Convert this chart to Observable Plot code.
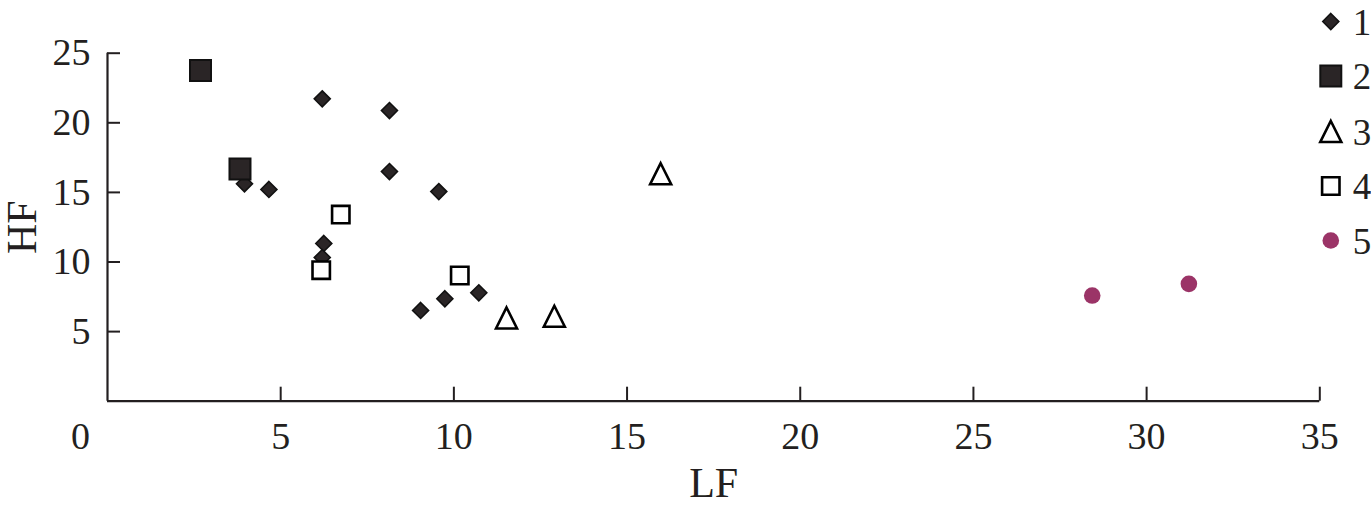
<!DOCTYPE html>
<html>
<head>
<meta charset="utf-8">
<script src="https://cdn.jsdelivr.net/npm/d3@7"></script>
<script src="https://cdn.jsdelivr.net/npm/@observablehq/plot@0.6"></script>
<style>
  html, body { margin: 0; padding: 0; background: #fff; }
  #chart svg { display: block; overflow: visible; }
  #chart svg text { font-family: "Liberation Serif", "Times New Roman", serif; }
</style>
</head>
<body>
<div id="chart"></div>
<script>
// ---- data ----
const seriesNames = ["1", "2", "3", "4", "5"];

const s1LF = [6.20, 8.14, 8.14, 9.565, 3.955, 4.66, 6.245, 6.20, 9.04, 9.74, 10.72];
const s1HF = [21.72, 20.88, 16.50, 15.06, 15.62, 15.21, 11.33, 10.32, 6.52, 7.36, 7.79];

const s2LF = [2.685, 3.825];
const s2HF = [23.76, 16.68];

const s3LF = [11.52, 12.90, 15.97];
const s3HF = [5.98, 6.10, 16.34];

const s4LF = [6.735, 6.17, 10.17];
const s4HF = [13.41, 9.41, 9.03];

const s5LF = [28.43, 31.22];
const s5HF = [7.59, 8.43];

const xTicks = [5, 10, 15, 20, 25, 30, 35];
const yTicks = [5, 10, 15, 20, 25];
const originLabel = [0];
const xTitle = ["LF"];
const yTitle = ["HF"];

// ---- layout ----
const W = 1371, H = 510;
const mL = 107, mR = 51.7, mT = 52.7, mB = 109.3;
const frameW = W - mL - mR, frameH = H - mT - mB;
const ink = "#231f20";
const font = '"Liberation Serif", "Times New Roman", serif';

// ---- custom symbols (size = r*r*PI) ----
const rad = (size) => Math.sqrt(size / Math.PI);
const diamond = {draw(c, s) { const r = rad(s); c.moveTo(0, -r); c.lineTo(r, 0); c.lineTo(0, r); c.lineTo(-r, 0); c.closePath(); }};
const square = {draw(c, s) { const r = rad(s); c.rect(-r, -r, 2 * r, 2 * r); }};
const triangle = {draw(c, s) { const r = rad(s); c.moveTo(0, -r); c.lineTo(r, r); c.lineTo(-r, r); c.closePath(); }};

const styles = [
  {symbol: diamond, r: 8.0, fill: "#2a2526", stroke: "#111", strokeWidth: 1.6},
  {symbol: square, r: 10.5, fill: "#2a2526", stroke: "#111", strokeWidth: 2},
  {symbol: triangle, r: 10.5, fill: "white", stroke: "#000", strokeWidth: 2.6},
  {symbol: square, r: 8.7, fill: "white", stroke: "#000", strokeWidth: 2.6},
  {symbol: "circle", r: 8.3, fill: "#9b3467", stroke: "none", strokeWidth: 0}
];

const seriesLF = [s1LF, s2LF, s3LF, s4LF, s5LF];
const seriesHF = [s1HF, s2HF, s3HF, s4HF, s5HF];
const series = seriesNames.map((name, k) =>
  seriesLF[k].map((lf, i) => ({name, LF: lf, HF: seriesHF[k][i]}))
);

const legendY = [21, 75.5, 131, 185.5, 240];

const marks = [
  // axes lines
  Plot.ruleY([0], {stroke: ink, strokeWidth: 2.2}),
  Plot.ruleX([0], {stroke: ink, strokeWidth: 2.2}),
  // inward ticks
  Plot.tickX(xTicks, {x: d => d, stroke: ink, strokeWidth: 2, insetTop: frameH - 14}),
  Plot.tickY(yTicks, {y: d => d, stroke: ink, strokeWidth: 2, insetRight: frameW - 13}),
  // tick labels
  Plot.axisX(xTicks, {tickSize: 0, tickPadding: 21, fontSize: 38, fill: ink, label: null}),
  Plot.axisY(yTicks, {tickSize: 0, tickPadding: 17, fontSize: 38, fill: ink, label: null}),
  Plot.text(originLabel, {x: d => d, y: d => d, text: d => String(d), dx: -27, dy: 36, fontSize: 38, fill: ink,
    textAnchor: "middle", lineAnchor: "middle"}),
  // axis titles
  Plot.text(xTitle, {text: d => d, frameAnchor: "bottom", dy: 82, fontSize: 42, fill: ink,
    textAnchor: "middle", lineAnchor: "middle"}),
  Plot.text(yTitle, {text: d => d, frameAnchor: "left", dx: 22 - mL, rotate: -90, fontSize: 42, fill: ink,
    textAnchor: "middle", lineAnchor: "middle"}),
];

// points
series.forEach((data, k) => {
  const st = styles[k];
  marks.push(Plot.dot(data, {x: "LF", y: "HF", ...st}));
});

// legend (top-right)
seriesNames.forEach((name, k) => {
  const st = styles[k];
  marks.push(Plot.dot([name], {frameAnchor: "top-right", dx: 11, dy: legendY[k] - mT, ...st}));
  marks.push(Plot.text([name], {text: d => d, frameAnchor: "top-right", dx: 33, dy: legendY[k] - mT + 1.5,
    textAnchor: "start", lineAnchor: "middle", fontSize: 37, fill: ink}));
});

const chart = Plot.plot({
  width: W,
  height: H,
  marginLeft: mL, marginRight: mR, marginTop: mT, marginBottom: mB,
  style: {fontFamily: font, background: "white", color: ink, overflow: "visible"},
  x: {domain: [0, 35]},
  y: {domain: [0, 25]},
  marks
});
document.getElementById("chart").appendChild(chart);
</script>
</body>
</html>
